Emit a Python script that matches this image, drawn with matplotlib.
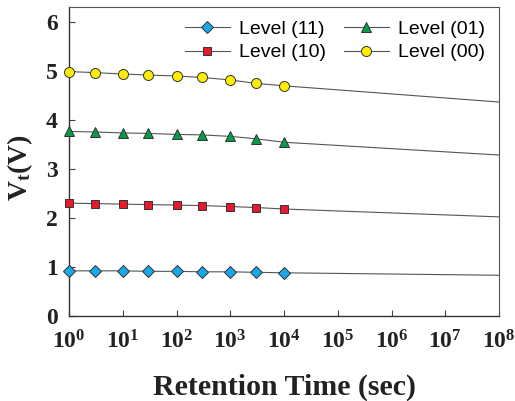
import matplotlib
matplotlib.use("Agg")
import matplotlib.pyplot as plt
import numpy as np

plt.rcParams['mathtext.fontset'] = 'custom'
plt.rcParams['mathtext.bf'] = 'Liberation Serif:bold'
plt.rcParams['mathtext.rm'] = 'Liberation Serif:bold'
plt.rcParams['mathtext.it'] = 'Liberation Serif:bold:italic'

time_s = [1, 3, 10, 30, 100, 300, 1000, 3000, 10000]
level_11 = [0.92, 0.92, 0.92, 0.91, 0.91, 0.90, 0.90, 0.89, 0.88]
level_10 = [2.30, 2.29, 2.28, 2.27, 2.26, 2.25, 2.23, 2.21, 2.18]
level_01 = [3.76, 3.75, 3.73, 3.72, 3.70, 3.69, 3.66, 3.61, 3.54]
level_00 = [4.98, 4.96, 4.93, 4.91, 4.89, 4.86, 4.81, 4.74, 4.69]

extrap_time = [10000, 1e8]
extrap_11 = [0.88, 0.83]
extrap_10 = [2.18, 2.02]
extrap_01 = [3.54, 3.28]
extrap_00 = [4.69, 4.36]

labels = ['Level (11)', 'Level (10)', 'Level (01)', 'Level (00)']
xticks = [1, 10, 100, 1e3, 1e4, 1e5, 1e6, 1e7, 1e8]
xtick_labels = [r'$\mathbf{10^{%d}}$' % i for i in range(9)]
yticks = [0, 1, 2, 3, 4, 5, 6]

fig = plt.figure(figsize=(5.15, 4.01), dpi=100)
ax = fig.add_axes([0.134, 0.212, 0.835, 0.771])

series = [
    (level_11, extrap_11, 'D', '#1aa7e8', 6.5),
    (level_10, extrap_10, 's', '#e8192c', 6.2),
    (level_01, extrap_01, '^', '#0a9a48', 7.5),
    (level_00, extrap_00, 'o', '#ffee00', 7.2),
]
for (vals, ext, m, c, ms), lab in zip(series, labels):
    ax.plot(extrap_time, ext, '-', color='#555555', lw=0.8, zorder=2)
    ax.plot(time_s, vals, '-', color='#555555', lw=0.8, marker=m, ms=ms,
            mfc=c, mec='#333333', mew=0.7, label=lab, zorder=3, clip_on=False)

ax.set_xscale('log')
ax.set_xlim(1, 1e8)
ax.set_ylim(0, 6.3)
ax.set_xticks(xticks)
ax.set_xticklabels(xtick_labels)
ax.xaxis.set_minor_locator(matplotlib.ticker.NullLocator())
ax.set_yticks(yticks)
ax.set_yticklabels([str(v) for v in yticks], family='Liberation Serif',
                   fontweight='bold')
ax.tick_params(axis='both', direction='in', length=4, width=0.8,
               color='#444444', labelsize=17, labelcolor='#222222')
ax.tick_params(axis='y', pad=8)
ax.tick_params(axis='x', labelsize=17, pad=10)

for s in ['left', 'bottom']:
    ax.spines[s].set_color('#333333')
    ax.spines[s].set_linewidth(1.0)
for s in ['top', 'right']:
    ax.spines[s].set_color('#555555')
    ax.spines[s].set_linewidth(0.8)

ax.set_xlabel('Retention Time (sec)', family='Liberation Serif',
              fontweight='bold', fontsize=21.5, labelpad=14, color='#222222')
ax.set_ylabel(r'$\mathbf{V_t}$' + '(V)', family='Liberation Serif',
              fontweight='bold', fontsize=20, color='#222222')
ax.yaxis.set_label_coords(-0.078, 0.48)

ax.legend(ncol=2, loc='upper right', frameon=False,
          prop={'family': 'Liberation Sans', 'size': 14},
          handlelength=2.3, columnspacing=0.9, handletextpad=0.5,
          borderaxespad=0.3, labelspacing=0.3, numpoints=1)

fig.savefig('out.png', dpi=100)
